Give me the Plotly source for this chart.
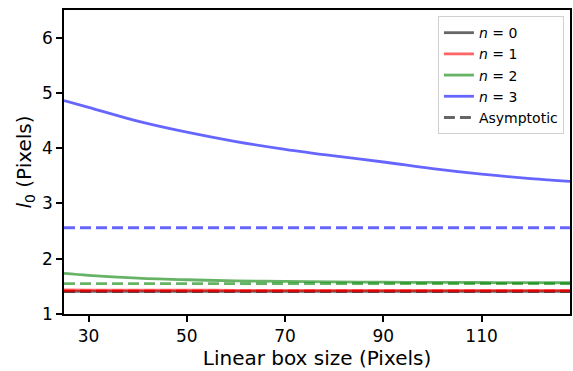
import plotly.graph_objects as go

box_size = [25, 30, 40, 50, 60, 70, 80, 90, 100, 110, 120, 128]
n0_vals = [1.41, 1.41, 1.41, 1.41, 1.41, 1.41, 1.41, 1.41, 1.41, 1.41, 1.41, 1.41]
n1_vals = [1.435, 1.433, 1.431, 1.430, 1.429, 1.429, 1.428, 1.428, 1.428, 1.428, 1.428, 1.428]
n2_vals = [1.735, 1.70, 1.65, 1.62, 1.60, 1.59, 1.58, 1.575, 1.572, 1.570, 1.567, 1.565]
n3_vals = [4.86, 4.74, 4.49, 4.29, 4.12, 3.98, 3.86, 3.75, 3.63, 3.53, 3.45, 3.40]
asym = {0: 1.41, 1: 1.42, 2: 1.55, 3: 2.56}

labels = ["<i>n</i> = 0", "<i>n</i> = 1", "<i>n</i> = 2", "<i>n</i> = 3"]
colors = ["rgba(0,0,0,0.6)", "rgba(255,0,0,0.6)", "rgba(0,128,0,0.6)", "rgba(0,0,255,0.6)"]
series = [n0_vals, n1_vals, n2_vals, n3_vals]

dash = "11px,5px"
fig = go.Figure()
for i, (lab, col, vals) in enumerate(zip(labels, colors, series)):
    fig.add_trace(go.Scatter(x=box_size, y=vals, mode="lines", name=lab,
                             line=dict(color=col, width=2.8, shape="spline")))
    fig.add_trace(go.Scatter(x=[box_size[0], box_size[-1]], y=[asym[i], asym[i]],
                             mode="lines", showlegend=False,
                             line=dict(color=col, width=2.8, dash=dash)))
fig.add_trace(go.Scatter(x=[None], y=[None], mode="lines", name="Asymptotic",
                         line=dict(color="rgba(0,0,0,0.6)", width=2.8, dash=dash)))

axis_common = dict(showline=True, linecolor="black", linewidth=1.6, mirror=True,
                   ticks="outside", ticklen=6, tickwidth=1.6, tickcolor="black",
                   showgrid=False, zeroline=False,
                   tickfont=dict(family="DejaVu Sans", size=17, color="black"))

fig.update_layout(
    width=573, height=371,
    margin=dict(l=64, r=1, t=10, b=57),
    paper_bgcolor="white", plot_bgcolor="white",
    font=dict(family="DejaVu Sans", color="black"),
    xaxis=dict(range=[25, 128], tickvals=[30, 50, 70, 90, 110],
               title=dict(text="Linear box size (Pixels)", font=dict(size=20), standoff=6),
               **axis_common),
    yaxis=dict(range=[1, 6.5], tickvals=[1, 2, 3, 4, 5, 6],
               title=dict(text="<i>l</i><sub>0</sub> (Pixels)", font=dict(size=20), standoff=5),
               **axis_common),
    legend=dict(x=0.988, y=0.98, xanchor="right", yanchor="top",
                bgcolor="rgba(255,255,255,0.8)", bordercolor="#d0d0d0", borderwidth=1,
                font=dict(family="DejaVu Sans", size=14, color="black"),
                tracegroupgap=0, itemwidth=30),
)

fig.write_html(
    "out.html",
    config={"displayModeBar": False},
    post_script="document.body.style.margin='0';document.body.style.overflow='hidden';",
)
